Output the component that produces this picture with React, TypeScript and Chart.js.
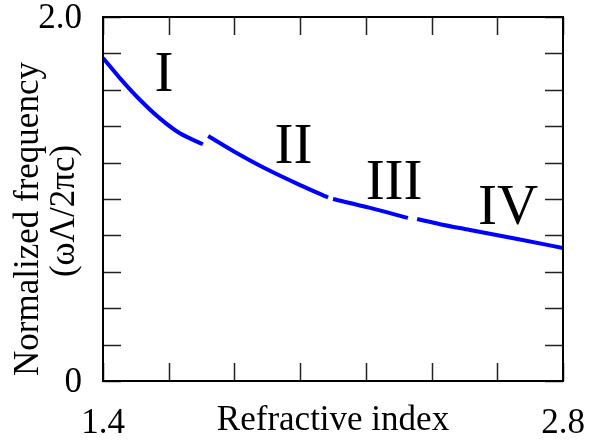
import React, { useEffect, useRef } from 'react';
import { Chart, registerables } from 'chart.js';

Chart.register(...registerables);

// Band segments of the normalized frequency curve (x: refractive index, y: ωΛ/2πc)
const segIx = [1.4, 1.452, 1.513, 1.573, 1.634, 1.704];
const segIy = [1.775, 1.663, 1.544, 1.443, 1.361, 1.301];
const segIIx = [1.72, 1.796, 1.899, 2.0, 2.085];
const segIIy = [1.346, 1.264, 1.163, 1.076, 1.008];
const segIIIx = [2.1, 2.213, 2.328];
const segIIIy = [1.0, 0.951, 0.896];
const segIVx = [2.356, 2.426, 2.517, 2.669, 2.8];
const segIVy = [0.89, 0.8615, 0.83, 0.777, 0.731];

const regionNames = ['I', 'II', 'III', 'IV'];
const regionX = [1.586, 1.98, 2.286, 2.633];
const regionY = [1.698, 1.302, 1.104, 0.967];

const xMin = 1.4;
const xMax = 2.8;
const yMin = 0;
const yMax = 2.0;
const tickStep = 0.2;
const xTickLabels: Record<string, string> = { '1.4': '1.4', '2.8': '2.8' };
const yTickLabels: Record<string, string> = { '0.0': '0', '2.0': '2.0' };

const xTitle = 'Refractive index';
const yTitleLines = ['Normalized frequency', '(ωΛ/2πc)'];

const FONT = '"Liberation Serif", "Times New Roman", Times, serif';

export default function App() {
  const ref = useRef<HTMLCanvasElement>(null);

  useEffect(() => {
    const canvas = ref.current!;
    const mk = (xs: number[], ys: number[]) => ({
      data: xs.map((x, i) => ({ x, y: ys[i] })),
      borderColor: '#0000ff',
      borderWidth: 4,
      pointRadius: 0,
      fill: false,
      cubicInterpolationMode: 'monotone' as const,
      borderCapStyle: 'butt' as const,
      clip: 0,
    });

    const framePlugin = {
      id: 'frame',
      afterDatasetsDraw(chart: any) {
        const { ctx, chartArea: a, scales } = chart;
        const xs = scales.x;
        const ys = scales.y;
        ctx.save();
        // inner ticks
        ctx.strokeStyle = '#222';
        ctx.lineWidth = 1.5;
        const tl = 18;
        ctx.beginPath();
        xs.ticks.forEach((t: any) => {
          const px = Math.round(xs.getPixelForValue(t.value)) + 0.5;
          ctx.moveTo(px, a.bottom);
          ctx.lineTo(px, a.bottom - tl);
          ctx.moveTo(px, a.top);
          ctx.lineTo(px, a.top + tl);
        });
        ys.ticks.forEach((t: any) => {
          const py = Math.round(ys.getPixelForValue(t.value)) + 0.5;
          ctx.moveTo(a.left, py);
          ctx.lineTo(a.left + tl, py);
          ctx.moveTo(a.right, py);
          ctx.lineTo(a.right - tl, py);
        });
        ctx.stroke();
        // frame
        ctx.strokeStyle = '#000';
        ctx.lineWidth = 2;
        ctx.strokeRect(a.left, a.top, a.right - a.left, a.bottom - a.top);

        // region labels
        ctx.fillStyle = '#000';
        ctx.font = `57px ${FONT}`;
        ctx.textAlign = 'center';
        ctx.textBaseline = 'alphabetic';
        regionNames.forEach((n, i) => {
          const px = xs.getPixelForValue(regionX[i]);
          const py = ys.getPixelForValue(regionY[i]);
          ctx.fillText(n, px, py + 19);
        });

        // axis titles
        ctx.font = `35px ${FONT}`;
        ctx.textAlign = 'center';
        ctx.textBaseline = 'alphabetic';
        ctx.fillText(xTitle, (a.left + a.right) / 2, 430);

        ctx.save();
        ctx.translate(38, 219);
        ctx.rotate(-Math.PI / 2);
        ctx.fillText(yTitleLines[0], 0, 0);
        ctx.restore();
        ctx.save();
        ctx.translate(74, 211);
        ctx.rotate(-Math.PI / 2);
        ctx.fillText(yTitleLines[1], 0, 0);
        ctx.restore();

        ctx.restore();
      },
    };

    const chart = new Chart(canvas, {
      type: 'line',
      data: {
        datasets: [mk(segIx, segIy), mk(segIIx, segIIy), mk(segIIIx, segIIIy), mk(segIVx, segIVy)],
      },
      options: {
        animation: false,
        responsive: false,
        devicePixelRatio: 1,
        layout: { padding: { top: 17, right: 26, left: 0, bottom: 0 } },
        plugins: { legend: { display: false }, tooltip: { enabled: false } },
        scales: {
          x: {
            type: 'linear',
            min: xMin,
            max: xMax,
            border: { display: false },
            grid: { display: false },
            ticks: {
              stepSize: tickStep,
              autoSkip: false,
              maxRotation: 0,
              padding: 14,
              color: '#000',
              font: { family: FONT, size: 35 },
              callback: (v: any) => xTickLabels[Number(v).toFixed(1)] ?? '',
            },
            afterFit: (s: any) => {
              s.height = 59;
              s.paddingLeft = 0;
              s.paddingRight = 0;
            },
          },
          y: {
            type: 'linear',
            min: yMin,
            max: yMax,
            border: { display: false },
            grid: { display: false },
            ticks: {
              stepSize: tickStep,
              autoSkip: false,
              padding: 13,
              labelOffset: 2,
              color: '#000',
              font: { family: FONT, size: 35 },
              callback: (v: any) => yTickLabels[Number(v).toFixed(1)] ?? '',
            },
            afterFit: (s: any) => {
              s.width = 103;
              s.paddingTop = 0;
              s.paddingBottom = 0;
            },
          },
        },
      },
      plugins: [framePlugin],
    });
    return () => chart.destroy();
  }, []);

  return (
    <div style={{ position: 'absolute', left: 0, top: 0, width: 589, height: 440, background: '#fff' }}>
      <canvas ref={ref} width={589} height={440} />
    </div>
  );
}
